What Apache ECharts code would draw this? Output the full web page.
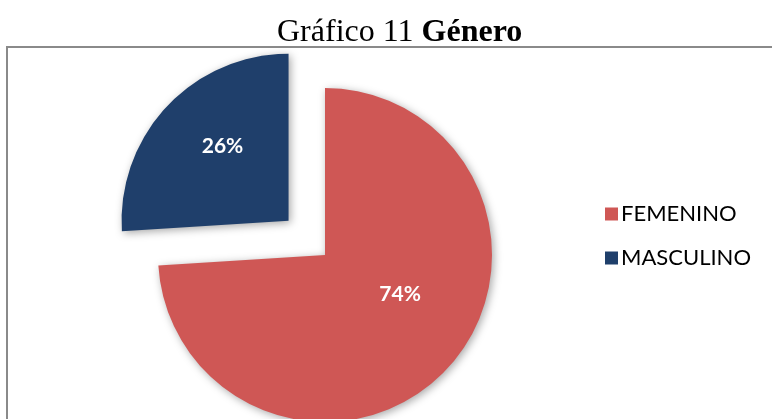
<!DOCTYPE html>
<html>
<head>
<meta charset="utf-8">
<script src="https://cdn.jsdelivr.net/npm/echarts@6/dist/echarts.min.js"></script>
<style>
  html, body { margin: 0; padding: 0; background: #fff; }
  #chart { width: 772px; height: 419px; }
</style>
</head>
<body>
<div id="chart"></div>
<script>
  const categories = ['FEMENINO', 'MASCULINO'];
  const values = [74, 26];
  const colors = ['#cf5755', '#1f3f6b'];

  const chart = echarts.init(document.getElementById('chart'));
  chart.setOption({
    backgroundColor: '#fff',
    animation: false,
    title: {
      text: '{n|Gráfico 11 }{b|Género}',
      left: 272,
      top: 12,
      textStyle: {
        fontWeight: 'normal',
        rich: {
          n: { fontFamily: 'Liberation Serif', fontSize: 32, fontWeight: 'normal', color: '#000' },
          b: { fontFamily: 'Liberation Serif', fontSize: 32, fontWeight: 'bold', color: '#000' }
        }
      }
    },
    graphic: [{
      type: 'rect',
      z: -1,
      shape: { x: 7, y: 47, width: 800, height: 420 },
      style: { fill: 'none', stroke: '#8a8a8a', lineWidth: 2 }
    }],
    legend: {
      orient: 'vertical',
      left: 600,
      top: 198,
      itemGap: 22,
      itemWidth: 13,
      itemHeight: 13,
      icon: 'rect',
      textStyle: { fontFamily: 'Lato', fontSize: 22, color: '#000', padding: [0, 0, 0, -2] },
      data: categories
    },
    series: [{
      type: 'pie',
      center: [325, 255],
      radius: 167,
      startAngle: 90,
      clockwise: true,
      selectedMode: 'single',
      selectedOffset: 50,
      itemStyle: {
        shadowBlur: 8,
        shadowColor: 'rgba(0,0,0,0.35)',
        shadowOffsetX: 2,
        shadowOffsetY: 2
      },
      label: {
        show: true,
        position: 'inside',
        formatter: '{c}%',
        color: '#fff',
        fontFamily: 'Lato',
        fontWeight: 'bold',
        fontSize: 21
      },
      labelLine: { show: false },
      labelLayout: function (params) {
        return params.dataIndex === 1 ? { dx: -3, dy: -15 } : { dx: 12, dy: -20 };
      },
      emphasis: { disabled: true },
      data: categories.map((name, i) => ({
        name: name,
        value: values[i],
        selected: i === 1,
        itemStyle: { color: colors[i] }
      }))
    }]
  });
</script>
</body>
</html>
